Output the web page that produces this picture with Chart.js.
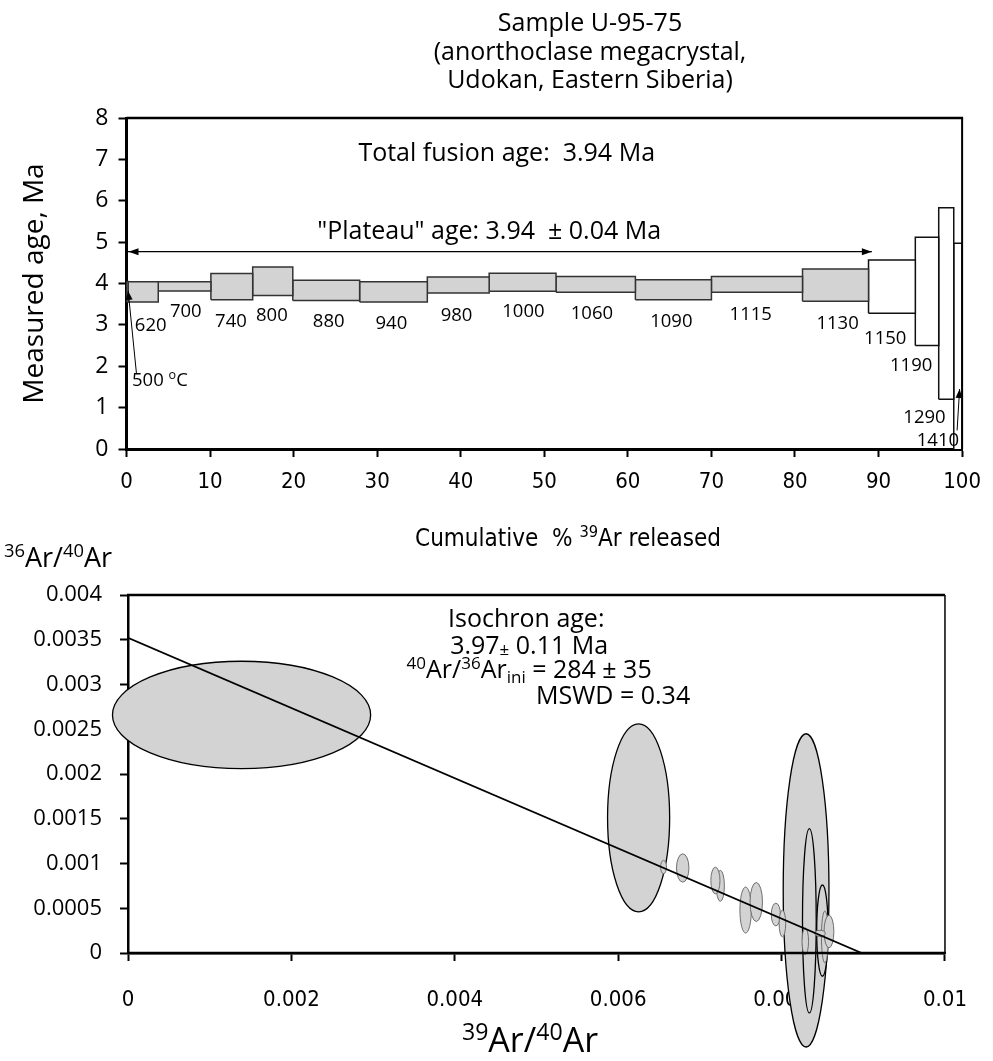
<!DOCTYPE html>
<html>
<head>
<meta charset="utf-8">
<title>Sample U-95-75</title>
<script src="https://cdn.jsdelivr.net/npm/chart.js@4.4.1/dist/chart.umd.min.js"></script>
<style>
    html, body { margin: 0; padding: 0; background: #fff; }
    #wrap { position: relative; width: 993px; height: 1061px; }
    #wrap > div { position: absolute; left: 0; width: 993px; }
    #spectrumBox { top: 0; height: 560px; }
    #isochronBox { top: 520px; height: 541px; }
</style>
</head>
<body>
<div id="wrap">
    <div id="spectrumBox"><canvas id="spectrumChart"></canvas></div>
    <div id="isochronBox"><canvas id="isochronChart"></canvas></div>
</div>
<script>
// ---- step heating spectrum ----
var stepTemps = ['500', '620', '700', '740', '800', '880', '940', '980', '1000', '1060', '1090', '1115', '1130', '1150', '1190', '1290', '1410'];
// cumulative % 39Ar at start / end of each step
var cumStart = [0, 0.2, 3.8, 10.1, 15.1, 19.9, 27.9, 36.0, 43.4, 51.4, 60.9, 70.0, 80.9, 88.8, 94.4, 97.2, 99.0];
var cumEnd = [0.2, 3.8, 10.1, 15.1, 19.9, 27.9, 36.0, 43.4, 51.4, 60.9, 70.0, 80.9, 88.8, 94.4, 97.2, 99.0, 100];
// age band of each step, Ma
var ageLow = [3.55, 3.55, 3.82, 3.61, 3.71, 3.59, 3.55, 3.77, 3.81, 3.79, 3.61, 3.79, 3.57, 3.28, 2.50, 1.20, -1.0];
var ageHigh = [4.05, 4.04, 4.04, 4.24, 4.40, 4.08, 4.04, 4.16, 4.25, 4.17, 4.09, 4.17, 4.35, 4.57, 5.12, 5.83, 4.97];
var inPlateau = [true, true, true, true, true, true, true, true, true, true, true, true, true, false, false, false, false];

var totalFusionAge = 3.94;
var plateauAge = 3.94;
var plateauErr = 0.04;
var plateauFrom = 0;
var plateauTo = 89.2;

// ---- isochron ----
// 39Ar/40Ar, 36Ar/40Ar and the half-axes of each error ellipse
var isoX = [0.00139, 0.00625, 0.00830, 0.00834, 0.00850, 0.006555, 0.00679, 0.00719, 0.00725, 0.00756, 0.00769, 0.00793, 0.00801, 0.00829, 0.00853, 0.00858, 0.00847];
var isoY = [0.00266, 0.00151, 0.00070, 0.00036, 0.00025, 0.00096, 0.00095, 0.00081, 0.00075, 0.00048, 0.00057, 0.00043, 0.00033, 0.00013, 0.00018, 0.00024, 0.00022];
var isoSx = [0.00158, 0.00038, 0.00028, 0.000084, 0.00007, 0.000036, 0.000076, 0.000056, 0.00005, 0.00007, 0.000076, 0.000056, 0.00004, 0.00004, 0.000042, 0.00006, 0.000066];
var isoSy = [0.00060, 0.00105, 0.00175, 0.00103, 0.00051, 0.000075, 0.000158, 0.000149, 0.000173, 0.000257, 0.000218, 0.000127, 0.000149, 0.000149, 0.00029, 0.000182, 0.000034];

var isoAge = 3.97;
var isoAgeErr = 0.11;
var initialRatio = 284;
var initialRatioErr = 35;
var mswd = 0.34;
var isoInterceptY = 1 / initialRatio;   // 36Ar/40Ar at 39Ar/40Ar = 0
var isoInterceptX = 0.00898;            // 39Ar/40Ar at 36Ar/40Ar = 0

var FONT = '"Open Sans", "Noto Sans", sans-serif';
var NARROW = '"Liberation Sans Narrow", "DejaVu Sans Condensed", Roboto, sans-serif';

// text with superscript / subscript pieces, y is the vertical centre
function drawRich(ctx, parts, x, y, size, family, align) {
    var small = size * 0.68;
    var widths = [];
    var total = 0;
    parts.forEach(function (p) {
        ctx.font = (p[1] ? small : size) + 'px ' + family;
        var w = ctx.measureText(p[0]).width;
        widths.push(w);
        total += w;
    });
    var cx = align === 'center' ? x - total / 2 : (align === 'right' ? x - total : x);
    var base = y + size * 0.36;
    ctx.textAlign = 'left';
    ctx.textBaseline = 'alphabetic';
    parts.forEach(function (p, i) {
        var dy = 0;
        if (p[1] === 'sup') dy = -size * 0.37;
        if (p[1] === 'sub') dy = size * 0.22;
        if (p[1] === 'small') dy = size * 0.04;
        ctx.font = (p[1] ? small : size) + 'px ' + family;
        ctx.fillText(p[0], cx, base + dy);
        cx += widths[i];
    });
}

function arrowHead(ctx, x1, y1, x2, y2, len, half) {
    var a = Math.atan2(y2 - y1, x2 - x1);
    var c = Math.cos(a), s = Math.sin(a);
    ctx.beginPath();
    ctx.moveTo(x2, y2);
    ctx.lineTo(x2 - len * c + half * s, y2 - len * s - half * c);
    ctx.lineTo(x2 - len * c - half * s, y2 - len * s + half * c);
    ctx.closePath();
    ctx.fill();
}

function arrow(ctx, x1, y1, x2, y2) {
    ctx.beginPath();
    ctx.moveTo(x1, y1);
    ctx.lineTo(x2, y2);
    ctx.stroke();
    arrowHead(ctx, x1, y1, x2, y2, 9, 3.5);
}

// where the temperature labels sit (cum %, Ma)
var tempLabelAt = [[4.0, 1.69], [2.9, 3.02], [7.1, 3.34], [12.5, 3.10], [17.4, 3.26], [24.2, 3.12], [31.7, 3.07], [39.5, 3.26],
    [47.5, 3.34], [55.7, 3.30], [65.2, 3.12], [74.7, 3.28], [85.1, 3.07], [90.8, 2.71], [93.9, 2.05], [95.5, 0.80], [97.1, 0.23]];

var spectrumDecor = {
    id: 'spectrumDecor',
    afterDraw: function (chart) {
        var ctx = chart.ctx;
        var xs = chart.scales.x, ys = chart.scales.y, area = chart.chartArea;
        function px(v) { return xs.getPixelForValue(v); }
        function py(v) { return ys.getPixelForValue(v); }
        ctx.save();
        ctx.fillStyle = '#000';
        ctx.strokeStyle = '#000';

        // top and right edges of the frame
        ctx.lineWidth = 2.5;
        ctx.beginPath();
        ctx.moveTo(area.left, area.top);
        ctx.lineTo(area.right + 1, area.top);
        ctx.stroke();
        ctx.lineWidth = 2;
        ctx.beginPath();
        ctx.moveTo(area.right, area.top);
        ctx.lineTo(area.right, area.bottom);
        ctx.stroke();

        // sample title
        var title = ['Sample U-95-75', '(anorthoclase megacrystal,', 'Udokan, Eastern Siberia)'];
        title.forEach(function (t, i) {
            drawRich(ctx, [[t]], 590, 22 + i * 28.5, 25, FONT, 'center');
        });

        drawRich(ctx, [['Total fusion age:  ' + totalFusionAge.toFixed(2) + ' Ma']], px(45.5), py(7.17), 25, FONT, 'center');
        drawRich(ctx, [['"Plateau" age: ' + plateauAge.toFixed(2) + '  \u00b1 ' + plateauErr.toFixed(2) + ' Ma']], px(43.4), py(5.29), 25, FONT, 'center');

        // plateau arrow, heads at both ends
        var ay = py(4.77);
        ctx.lineWidth = 1.3;
        ctx.beginPath();
        ctx.moveTo(px(plateauFrom), ay);
        ctx.lineTo(px(plateauTo), ay);
        ctx.stroke();
        arrowHead(ctx, px(plateauTo), ay, px(plateauFrom) + 2, ay, 10, 3.5);
        arrowHead(ctx, px(plateauFrom), ay, px(plateauTo), ay, 10, 3.5);

        // temperature of each step
        stepTemps.forEach(function (t, i) {
            var at = tempLabelAt[i];
            var parts = i === 0 ? [[t + ' '], ['o', 'sup'], ['C']] : [[t]];
            drawRich(ctx, parts, px(at[0]), py(at[1]), 18.5, FONT, 'center');
        });
        // pointers to the two thinnest steps
        ctx.lineWidth = 1;
        arrow(ctx, px(1.2), py(1.81), px(0.2), py(3.82));
        arrow(ctx, px(99.4), py(0.45), px(99.7), py(1.45));

        drawRich(ctx, [['Cumulative  % '], ['39', 'sup'], ['Ar released']], 568, 537, 24, NARROW, 'center');
        ctx.restore();
    }
};

var stepSets = stepTemps.map(function (t, i) {
    return {
        label: t + ' \u00b0C',
        data: [
            { x: cumStart[i], y: ageLow[i] },
            { x: cumStart[i], y: ageHigh[i] },
            { x: cumEnd[i], y: ageHigh[i] },
            { x: cumEnd[i], y: ageLow[i] },
            { x: cumStart[i], y: ageLow[i] }
        ],
        fill: 'shape',
        backgroundColor: inPlateau[i] ? '#d3d3d3' : '#ffffff',
        borderColor: inPlateau[i] ? '#333333' : '#111111',
        borderWidth: 1.5,
        pointRadius: 0,
        tension: 0
    };
});

var ctx1 = document.getElementById('spectrumChart').getContext('2d');
var spectrumChart = new Chart(ctx1, {
    type: 'line',
    data: { datasets: stepSets },
    options: {
        responsive: true,
        maintainAspectRatio: false,
        animation: false,
        layout: { padding: { top: 118, right: 22, left: 0, bottom: 0 } },
        plugins: { legend: { display: false }, tooltip: { enabled: false } },
        scales: {
            x: {
                type: 'linear',
                min: 0,
                max: 100,
                afterFit: function (s) { s.height = 111; },
                ticks: { stepSize: 10, padding: 12, color: '#000', autoSkip: false, maxRotation: 0, font: { family: NARROW, size: 22 } },
                grid: { drawOnChartArea: false, tickLength: 8, tickWidth: 2, tickColor: '#000' },
                border: { width: 3, color: '#000' }
            },
            y: {
                min: 0,
                max: 8,
                afterFit: function (s) { s.width = 126.5; },
                ticks: { stepSize: 1, padding: 10, color: '#000', font: { family: FONT, size: 23 } },
                grid: { drawOnChartArea: false, tickLength: 8, tickWidth: 2, tickColor: '#000' },
                border: { width: 3, color: '#000' },
                title: { display: true, text: 'Measured age, Ma', color: '#000', font: { family: FONT, size: 28 }, padding: { top: 18, bottom: 0 } }
            }
        }
    },
    plugins: [spectrumDecor]
});

// ---- isochron chart ----
var isochronDecor = {
    id: 'isochronDecor',
    beforeDatasetsDraw: function (chart) {
        // error ellipses, largest first so the small ones stay on top
        var ctx = chart.ctx;
        var xs = chart.scales.x, ys = chart.scales.y;
        var pts = chart.getDatasetMeta(0).data;
        var order = isoX.map(function (v, i) { return i; });
        order.sort(function (a, b) { return isoSx[b] * isoSy[b] - isoSx[a] * isoSy[a]; });
        ctx.save();
        order.forEach(function (i) {
            var cx = pts[i].x, cy = pts[i].y;
            var rx = Math.abs(xs.getPixelForValue(isoX[i] + isoSx[i]) - cx);
            var ry = Math.abs(ys.getPixelForValue(isoY[i] + isoSy[i]) - cy);
            ctx.beginPath();
            ctx.ellipse(cx, cy, rx, ry, 0, 0, Math.PI * 2);
            ctx.fillStyle = '#d3d3d3';
            ctx.fill();
            ctx.lineWidth = ry > 40 ? 1.3 : 1;
            ctx.strokeStyle = ry > 40 ? '#000' : '#6e6e6e';
            ctx.stroke();
        });
        ctx.restore();
    },
    afterDatasetsDraw: function (chart) {
        var ctx = chart.ctx, area = chart.chartArea;
        ctx.save();
        ctx.strokeStyle = '#000';
        ctx.lineWidth = 2.5;
        ctx.beginPath();
        ctx.moveTo(area.left - 1, area.top);
        ctx.lineTo(area.right, area.top);
        ctx.moveTo(area.left - 1, area.bottom);
        ctx.lineTo(area.right + 1, area.bottom);
        ctx.stroke();
        ctx.lineWidth = 1.5;
        ctx.beginPath();
        ctx.moveTo(area.right, area.top);
        ctx.lineTo(area.right, area.bottom);
        ctx.stroke();
        ctx.restore();
    },
    afterDraw: function (chart) {
        var ctx = chart.ctx;
        var xs = chart.scales.x, ys = chart.scales.y;
        function px(v) { return xs.getPixelForValue(v); }
        function py(v) { return ys.getPixelForValue(v); }
        ctx.save();
        ctx.fillStyle = '#000';
        drawRich(ctx, [['Isochron age:']], px(0.004875), py(0.00374), 25, FONT, 'center');
        drawRich(ctx, [[isoAge.toFixed(2)], ['\u00b1', 'small'], [' ' + isoAgeErr.toFixed(2) + ' Ma']], px(0.00491), py(0.00344), 25, FONT, 'center');
        drawRich(ctx, [['40', 'sup'], ['Ar/'], ['36', 'sup'], ['Ar'], ['ini', 'sub'], [' = ' + initialRatio + ' \u00b1 ' + initialRatioErr]],
            px(0.00491), py(0.003175), 25, FONT, 'center');
        drawRich(ctx, [['MSWD = ' + mswd.toFixed(2)]], px(0.005938), py(0.002883), 25, FONT, 'center');

        drawRich(ctx, [['36', 'sup'], ['Ar/'], ['40', 'sup'], ['Ar']], 4, 37, 27, FONT, 'left');
        drawRich(ctx, [['39', 'sup'], ['Ar/'], ['40', 'sup'], ['Ar']], 530, 520, 34, FONT, 'center');
        ctx.restore();
    }
};

var ctx2 = document.getElementById('isochronChart').getContext('2d');
var isochronChart = new Chart(ctx2, {
    type: 'scatter',
    data: {
        datasets: [{
            label: 'Steps',
            data: isoX.map(function (v, i) { return { x: v, y: isoY[i] }; }),
            pointRadius: 0,
            pointHoverRadius: 0
        },
        {
            label: 'Isochron',
            data: [{ x: 0, y: isoInterceptY }, { x: isoInterceptX, y: 0 }],
            showLine: true,
            borderColor: '#000',
            borderWidth: 1.8,
            pointRadius: 0
        }]
    },
    options: {
        responsive: true,
        maintainAspectRatio: false,
        animation: false,
        layout: { padding: { top: 75, right: 28, left: 0, bottom: 0 } },
        plugins: { legend: { display: false }, tooltip: { enabled: false } },
        scales: {
            x: {
                type: 'linear',
                min: 0,
                max: 0.01,
                afterFit: function (s) { s.height = 108; },
                ticks: {
                    stepSize: 0.002, padding: 26, color: '#000', autoSkip: false, maxRotation: 0,
                    font: { family: NARROW, size: 22 },
                    callback: function (v) { return String(+v.toFixed(3)); }
                },
                grid: { drawOnChartArea: false, tickLength: 8, tickWidth: 2, tickColor: '#000' },
                border: { width: 2.5, color: '#000' }
            },
            y: {
                min: 0,
                max: 0.004,
                z: 1,
                afterFit: function (s) { s.width = 128; },
                ticks: {
                    stepSize: 0.0005, padding: 18, color: '#000',
                    font: { family: FONT, size: 22 },
                    callback: function (v) { return String(+v.toFixed(4)); }
                },
                grid: { drawOnChartArea: false, tickLength: 8, tickWidth: 2, tickColor: '#000' },
                border: { width: 2.5, color: '#000' }
            }
        }
    },
    plugins: [isochronDecor]
});
</script>
</body>
</html>
